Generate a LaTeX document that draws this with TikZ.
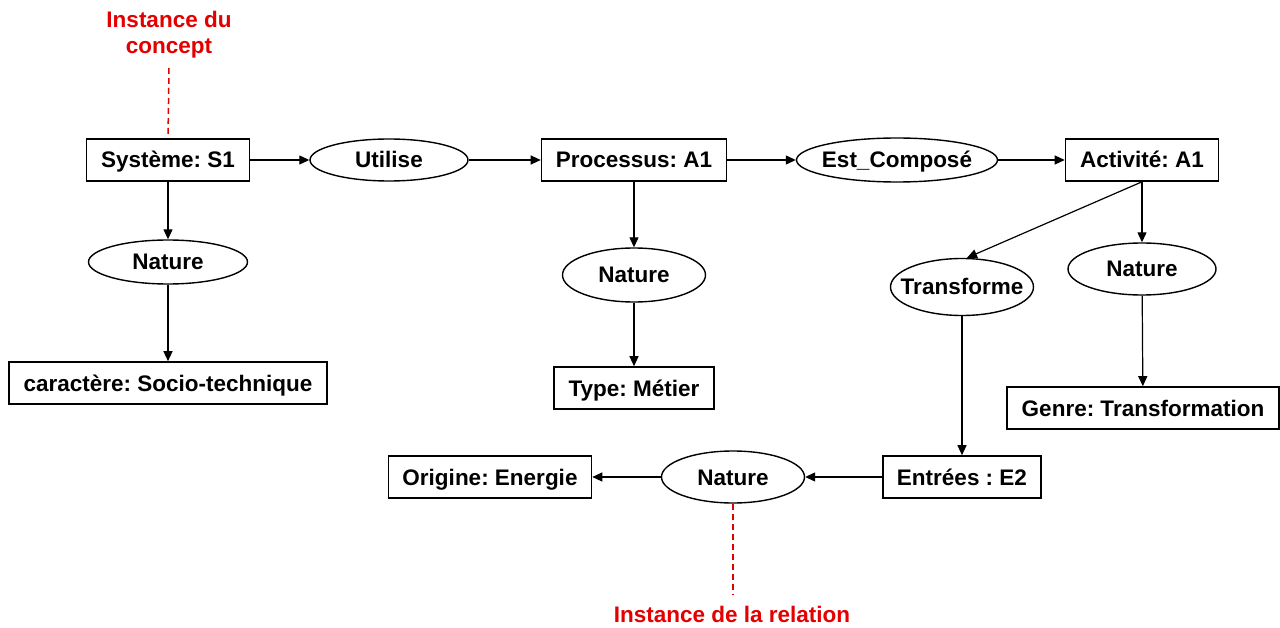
\documentclass[tikz,border=0pt]{standalone}
\usepackage{fontspec}
\setmainfont{Liberation Sans}
\usetikzlibrary{arrows.meta,shapes.geometric}
\newcommand\zw[1]{\makebox[0pt]{#1}}
\definecolor{notered}{RGB}{228,0,0}
\frenchspacing
\begin{document}
\begin{tikzpicture}[x=1pt,y=-1pt,
  every node/.style={font=\fontsize{22.5}{26}\selectfont\bfseries, inner sep=0pt},
  cbox/.style={draw, line width=1.6pt, rectangle, minimum height=42pt, text height=18pt, text depth=2pt},
  rel/.style={draw, line width=1.4pt, ellipse, text height=18pt, text depth=2pt},
  arr/.style={line width=1.2pt, -{Triangle[length=10pt,width=9pt]}},
  note/.style={text=notered, align=center},
  guide/.style={draw=notered, line width=1.5pt, dash pattern=on 6pt off 4pt}]
\useasboundingbox (0,0) rectangle (1280,628);
\fill[white] (0,0) rectangle (1280,628);
% concepts and relations
\node[cbox, minimum width=163pt] (s1) at (168,160) {Système: S1};
\node[rel, minimum width=158pt, minimum height=42pt] (use) at (389,160) {\zw{Utilise}};
\node[cbox, minimum width=185pt] (p1) at (634,160) {Processus: A1};
\node[rel, minimum width=201pt, minimum height=44pt] (comp) at (897,160) {\zw{Est\_Composé}};
\node[cbox, minimum width=153pt] (a1) at (1142,160) {Activité: A1};
\node[rel, minimum width=159pt, minimum height=44pt] (nat1) at (168,262) {\zw{Nature}};
\node[cbox, minimum width=318pt] (car) at (168,383) {caractère: Socio-technique};
\node[rel, minimum width=143pt, minimum height=54pt] (nat2) at (634,275) {\zw{Nature}};
\node[cbox, minimum width=160pt] (type) at (634,388) {Type: Métier};
\node[rel, minimum width=143pt, minimum height=57pt] (trans) at (962,287) {\zw{Transforme}};
\node[rel, minimum width=148pt, minimum height=52pt] (nat3) at (1142,269) {\zw{Nature}};
\node[cbox, minimum width=272pt] (genre) at (1143,408) {Genre: Transformation};
\node[cbox, minimum width=158pt] (ent) at (962,477) {Entrées : E2};
\node[rel, minimum width=143pt, minimum height=52pt] (nat4) at (733,477) {\zw{Nature}};
\node[cbox, minimum width=203pt] (orig) at (490,477) {Origine: Energie};
% notes
\node[note] (n1) at (169,35) {Instance du\\concept};
\node[note] (n2) at (732,614) {Instance de la relation};
\coordinate (g1) at (169,68);
\coordinate (g2) at (733,595);
\draw[guide] (g1) -- (s1.north);
\draw[guide] (nat4.south) -- (g2);
% connectors
\draw[arr] (s1) -- (use);
\draw[arr] (use) -- (p1);
\draw[arr] (p1) -- (comp);
\draw[arr] (comp) -- (a1);
\draw[arr] (s1) -- (nat1);
\draw[arr] (nat1) -- (car);
\draw[arr] (p1) -- (nat2);
\draw[arr] (nat2) -- (type);
\draw[arr] (a1.south) -- ([xshift=5pt]trans.north);
\draw[arr] (a1) -- (nat3);
\draw[arr] (nat3) -- (genre);
\draw[arr] (trans) -- (ent);
\draw[arr] (ent) -- (nat4);
\draw[arr] (nat4) -- (orig);
\end{tikzpicture}
\end{document}
